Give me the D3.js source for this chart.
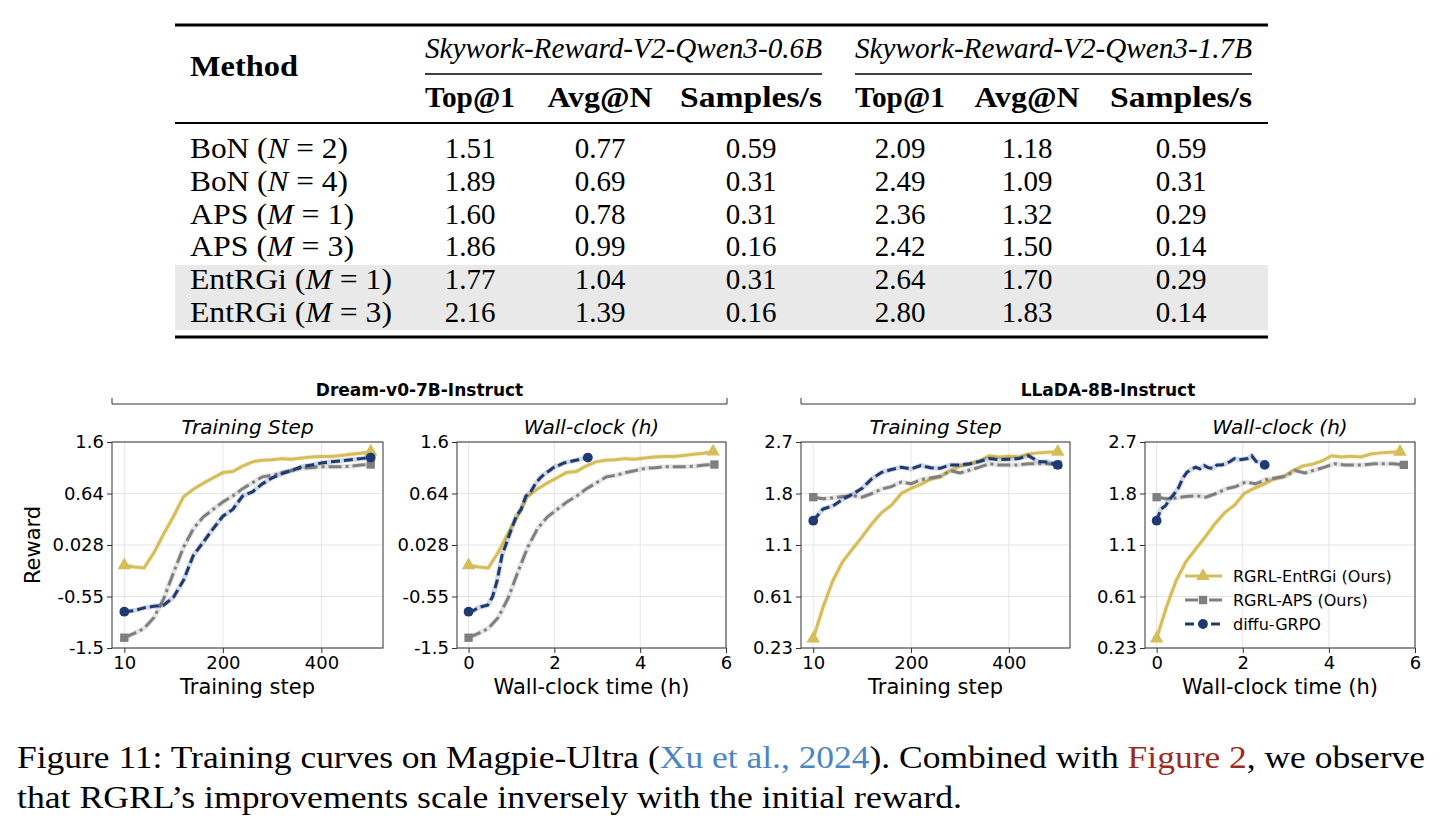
<!DOCTYPE html>
<html>
<head>
<meta charset="utf-8">
<script src="https://cdn.jsdelivr.net/npm/d3@7"></script>
<style>
  body { margin: 0; background: #fff; }
  svg { display: block; }
</style>
</head>
<body>
<svg id="fig" width="1454" height="829"></svg>
<script>
// ---- table data ----
var rowMethods = ["BoN", "BoN", "APS", "APS", "EntRGi", "EntRGi"];
var rowVar = ["N", "N", "M", "M", "M", "M"];
var rowVal = ["2", "4", "1", "3", "1", "3"];
var rmHeaders = ["Skywork-Reward-V2-Qwen3-0.6B", "Skywork-Reward-V2-Qwen3-1.7B"];
var colHeaders = ["Top@1", "Avg@N", "Samples/s"];
var top1_06 = [1.51, 1.89, 1.60, 1.86, 1.77, 2.16];
var avgN_06 = [0.77, 0.69, 0.78, 0.99, 1.04, 1.39];
var sps_06 = [0.59, 0.31, 0.31, 0.16, 0.31, 0.16];
var top1_17 = [2.09, 2.49, 2.36, 2.42, 2.64, 2.80];
var avgN_17 = [1.18, 1.09, 1.32, 1.50, 1.70, 1.83];
var sps_17 = [0.59, 0.31, 0.29, 0.14, 0.29, 0.14];

// ---- curve data (reward every 20 training steps) ----
var steps = [0, 20, 40, 60, 80, 100, 120, 140, 160, 180, 200, 220, 240, 260, 280, 300, 320, 340, 360, 380, 400, 420, 440, 460, 480, 500];
var seriesNames = ["RGRL-EntRGi (Ours)", "RGRL-APS (Ours)", "diffu-GRPO"];
var dreamEntRGi = [-0.20, -0.22, -0.23, -0.06, 0.16, 0.37, 0.60, 0.72, 0.83, 0.93, 1.03, 1.05, 1.15, 1.23, 1.26, 1.27, 1.29, 1.28, 1.30, 1.32, 1.33, 1.33, 1.35, 1.37, 1.39, 1.42];
var dreamAPS = [-1.31, -1.23, -1.14, -0.94, -0.59, -0.28, 0.00, 0.22, 0.36, 0.45, 0.54, 0.61, 0.73, 0.84, 0.95, 0.98, 1.03, 1.07, 1.11, 1.12, 1.14, 1.14, 1.14, 1.15, 1.17, 1.18];
var dreamGRPO = [-0.83, -0.81, -0.76, -0.73, -0.71, -0.56, -0.37, -0.09, 0.06, 0.22, 0.37, 0.45, 0.61, 0.67, 0.82, 0.93, 1.01, 1.07, 1.14, 1.17, 1.21, 1.23, 1.25, 1.27, 1.29, 1.31];
var lladaEntRGi = [0.30, 0.53, 0.76, 0.94, 1.06, 1.21, 1.39, 1.54, 1.64, 1.80, 1.89, 1.96, 2.05, 2.09, 2.20, 2.28, 2.31, 2.37, 2.46, 2.44, 2.45, 2.44, 2.49, 2.51, 2.52, 2.53];
var lladaAPS = [1.75, 1.73, 1.74, 1.76, 1.77, 1.75, 1.80, 1.88, 1.92, 2.00, 1.97, 2.04, 2.07, 2.10, 2.20, 2.16, 2.21, 2.26, 2.32, 2.30, 2.30, 2.30, 2.32, 2.32, 2.32, 2.30];
var lladaGRPO = [1.43, 1.59, 1.63, 1.72, 1.79, 1.89, 2.06, 2.17, 2.22, 2.26, 2.23, 2.29, 2.25, 2.24, 2.30, 2.30, 2.32, 2.36, 2.41, 2.39, 2.40, 2.41, 2.46, 2.36, 2.35, 2.30];
// total wall-clock hours of each run (EntRGi, APS, GRPO)
var dreamHours = [5.70, 5.73, 2.78];
var lladaHours = [5.65, 5.74, 2.51];

var dreamYTicks = [-1.5, -0.55, 0.028, 0.64, 1.6];
var dreamYLabels = ["-1.5", "-0.55", "0.028", "0.64", "1.6"];
var lladaYTicks = [0.23, 0.61, 1.1, 1.8, 2.7];
var lladaYLabels = ["0.23", "0.61", "1.1", "1.8", "2.7"];
var stepTicks = [0, 200, 400];
var stepTickLabels = ["10", "200", "400"];
var hourTicks = [0, 2, 4, 6];
var hourTickLabels = ["0", "2", "4", "6"];

var colors = ["#d6bd57", "#7f7f7f", "#1f3a72"];
var dashes = [null, "13,4,3,4", "9,4"];
var markers = [d3.symbolTriangle, d3.symbolSquare, d3.symbolCircle];
var markerSize = [80, 70, 75];

var svg = d3.select("#fig");
var serif = "'Liberation Serif', 'Times New Roman', serif";
var sans = "'DejaVu Sans', sans-serif";

// ================= TABLE =================
var tLeft = 175, tRight = 1268;
var colX = [470, 600, 751, 900, 1027, 1181];
var colW = [90, 105, 142, 90, 105, 142];
var labelW = [158, 158, 164, 164, 202, 202];
var rowY = d3.scalePoint().domain(d3.range(6)).range([158, 322]);

svg.append("rect").attr("x", tLeft).attr("y", 265).attr("width", tRight - tLeft).attr("height", 65)
  .attr("fill", "#e9e9e9");
svg.append("line").attr("x1", tLeft).attr("x2", tRight).attr("y1", 25).attr("y2", 25)
  .attr("stroke", "#000").attr("stroke-width", 3);
svg.append("line").attr("x1", tLeft).attr("x2", tRight).attr("y1", 123).attr("y2", 123)
  .attr("stroke", "#000").attr("stroke-width", 2);
svg.append("line").attr("x1", tLeft).attr("x2", tRight).attr("y1", 337).attr("y2", 337)
  .attr("stroke", "#000").attr("stroke-width", 3);

svg.append("text").attr("x", 190).attr("y", 76).text("Method")
  .attr("font-family", serif).attr("font-weight", "bold").attr("font-size", 29)
  .attr("textLength", 108).attr("lengthAdjust", "spacingAndGlyphs");

var groupSpan = [[425, 822], [855, 1252]];
rmHeaders.forEach(function (h, k) {
  var s = groupSpan[k];
  svg.append("text").attr("x", s[0]).attr("y", 58).text(h)
    .attr("font-family", serif).attr("font-style", "italic").attr("font-size", 29)
    .attr("textLength", s[1] - s[0]).attr("lengthAdjust", "spacingAndGlyphs");
  svg.append("line").attr("x1", s[0]).attr("x2", s[1]).attr("y1", 74).attr("y2", 74)
    .attr("stroke", "#000").attr("stroke-width", 1.5);
  colHeaders.forEach(function (c, j) {
    var ci = k * 3 + j;
    svg.append("text").attr("x", colX[ci] - colW[ci] / 2).attr("y", 107).text(c)
      .attr("font-family", serif).attr("font-weight", "bold").attr("font-size", 29)
      .attr("textLength", colW[ci]).attr("lengthAdjust", "spacingAndGlyphs");
  });
});

var tableCols = [top1_06, avgN_06, sps_06, top1_17, avgN_17, sps_17];
rowMethods.forEach(function (m, i) {
  var t = svg.append("text").attr("x", 190).attr("y", rowY(i))
    .attr("font-family", serif).attr("font-size", 29)
    .attr("textLength", labelW[i]).attr("lengthAdjust", "spacingAndGlyphs");
  t.append("tspan").text(m + " (");
  t.append("tspan").attr("font-style", "italic").text(rowVar[i]);
  t.append("tspan").text(" = " + rowVal[i] + ")");
  tableCols.forEach(function (col, j) {
    svg.append("text").attr("x", colX[j]).attr("y", rowY(i)).text(col[i].toFixed(2))
      .attr("text-anchor", "middle").attr("font-family", serif).attr("font-size", 29);
  });
});

// ================= CHARTS =================
var plotTop = 442, plotBottom = 648;

function drawPanel(p) {
  var g = svg.append("g");
  var x = d3.scaleLinear().domain(p.xDomain).range([p.left, p.right]);
  var y = d3.scaleLinear().domain(p.yTicks)
    .range(d3.quantize(d3.interpolateNumber(plotBottom, plotTop), p.yTicks.length));

  // grid
  g.selectAll(".vg").data(p.xTicks).join("line")
    .attr("x1", function (d) { return x(d); }).attr("x2", function (d) { return x(d); })
    .attr("y1", plotTop).attr("y2", plotBottom).attr("stroke", "#e5e5e5").attr("stroke-width", 1);
  g.selectAll(".hg").data(p.yTicks).join("line")
    .attr("x1", p.left).attr("x2", p.right)
    .attr("y1", function (d) { return y(d); }).attr("y2", function (d) { return y(d); })
    .attr("stroke", "#e5e5e5").attr("stroke-width", 1);

  // axes
  var xa = g.append("g").attr("transform", "translate(0," + plotBottom + ")")
    .call(d3.axisBottom(x).tickValues(p.xTicks).tickFormat(function (d, i) { return p.xTickLabels[i]; })
      .tickSize(5).tickSizeOuter(0).tickPadding(3));
  var ya = g.append("g").attr("transform", "translate(" + p.left + ",0)")
    .call(d3.axisLeft(y).tickValues(p.yTicks).tickFormat(function (d, i) { return p.yTickLabels[i]; })
      .tickSize(5).tickSizeOuter(0).tickPadding(3));
  [xa, ya].forEach(function (a) {
    a.select(".domain").remove();
    a.selectAll("line").attr("stroke", "#333");
    a.selectAll("text").attr("font-family", sans).attr("font-size", 18).attr("fill", "#000");
  });

  // series
  p.series.forEach(function (s, k) {
    var pts = s.values.map(function (v, i) { return [s.xs[i], v]; });
    var line = d3.line().x(function (d) { return x(d[0]); }).y(function (d) { return y(d[1]); });
    g.append("path").datum(pts).attr("d", line).attr("fill", "none")
      .attr("stroke", colors[k]).attr("stroke-opacity", 0.2).attr("stroke-width", 5);
    g.append("path").datum(pts).attr("d", line).attr("fill", "none")
      .attr("stroke", colors[k]).attr("stroke-width", 3)
      .attr("stroke-dasharray", dashes[k]);
    [pts[0], pts[pts.length - 1]].forEach(function (d) {
      g.append("path").attr("d", d3.symbol().type(markers[k]).size(markerSize[k])())
        .attr("transform", "translate(" + x(d[0]) + "," + y(d[1]) + ")")
        .attr("fill", colors[k]);
    });
  });

  // frame
  g.append("rect").attr("x", p.left).attr("y", plotTop)
    .attr("width", p.right - p.left).attr("height", plotBottom - plotTop)
    .attr("fill", "none").attr("stroke", "#333").attr("stroke-width", 1);

  var cx = (p.left + p.right) / 2;
  g.append("text").attr("x", cx).attr("y", 434).attr("text-anchor", "middle").text(p.title)
    .attr("font-family", sans).attr("font-style", "italic").attr("font-size", 20);
  g.append("text").attr("x", cx).attr("y", 694).attr("text-anchor", "middle").text(p.xLabel)
    .attr("font-family", sans).attr("font-size", 21);
  if (p.yLabel) {
    g.append("text").attr("transform", "translate(40,545) rotate(-90)")
      .attr("text-anchor", "middle").text(p.yLabel)
      .attr("font-family", sans).attr("font-size", 21);
  }

  if (p.legend) {
    seriesNames.forEach(function (n, k) {
      var ly = 576 + k * 24;
      g.append("line").attr("x1", 1185).attr("x2", 1222).attr("y1", ly).attr("y2", ly)
        .attr("stroke", colors[k]).attr("stroke-width", 3).attr("stroke-dasharray", dashes[k]);
      g.append("path").attr("d", d3.symbol().type(markers[k]).size(markerSize[k])())
        .attr("transform", "translate(1203," + ly + ")").attr("fill", colors[k]);
      g.append("text").attr("x", 1233).attr("y", ly).attr("dy", "0.35em").text(n)
        .attr("font-family", sans).attr("font-size", 16);
    });
  }
}

function hoursFor(total) {
  return steps.map(function (s) { return s / 500 * total; });
}

var dreamVals = [dreamEntRGi, dreamAPS, dreamGRPO];
var lladaVals = [lladaEntRGi, lladaAPS, lladaGRPO];

drawPanel({
  left: 112, right: 383, xDomain: [-25, 525], xTicks: stepTicks, xTickLabels: stepTickLabels,
  yTicks: dreamYTicks, yTickLabels: dreamYLabels, title: "Training Step", xLabel: "Training step",
  yLabel: "Reward",
  series: dreamVals.map(function (v) { return { values: v, xs: steps }; })
});
drawPanel({
  left: 457, right: 726, xDomain: [-0.27, 6.0], xTicks: hourTicks, xTickLabels: hourTickLabels,
  yTicks: dreamYTicks, yTickLabels: dreamYLabels, title: "Wall-clock (h)", xLabel: "Wall-clock time (h)",
  series: dreamVals.map(function (v, k) { return { values: v, xs: hoursFor(dreamHours[k]) }; })
});
drawPanel({
  left: 801, right: 1070, xDomain: [-25, 525], xTicks: stepTicks, xTickLabels: stepTickLabels,
  yTicks: lladaYTicks, yTickLabels: lladaYLabels, title: "Training Step", xLabel: "Training step",
  series: lladaVals.map(function (v) { return { values: v, xs: steps }; })
});
drawPanel({
  left: 1145, right: 1415, xDomain: [-0.27, 6.0], xTicks: hourTicks, xTickLabels: hourTickLabels,
  yTicks: lladaYTicks, yTickLabels: lladaYLabels, title: "Wall-clock (h)", xLabel: "Wall-clock time (h)",
  legend: true,
  series: lladaVals.map(function (v, k) { return { values: v, xs: hoursFor(lladaHours[k]) }; })
});

// group brackets
var groups = [["Dream-v0-7B-Instruct", 112, 727], ["LLaDA-8B-Instruct", 801, 1415]];
groups.forEach(function (gr) {
  svg.append("path").attr("d", "M" + gr[1] + ",398V404H" + gr[2] + "V398")
    .attr("fill", "none").attr("stroke", "#333").attr("stroke-width", 1);
  svg.append("text").attr("x", (gr[1] + gr[2]) / 2).attr("y", 396).attr("text-anchor", "middle")
    .text(gr[0]).attr("font-family", sans).attr("font-weight", "bold").attr("font-size", 17);
});

// ================= CAPTION =================
var cap1 = svg.append("text").attr("x", 17).attr("y", 768)
  .attr("font-family", serif).attr("font-size", 32)
  .attr("textLength", 1408).attr("lengthAdjust", "spacingAndGlyphs");
cap1.append("tspan").text("Figure 11: Training curves on Magpie-Ultra (");
cap1.append("tspan").attr("fill", "#4a86c3").text("Xu et al., 2024");
cap1.append("tspan").text("). Combined with ");
cap1.append("tspan").attr("fill", "#9c2b1e").text("Figure 2");
cap1.append("tspan").text(", we observe");
svg.append("text").attr("x", 17).attr("y", 808)
  .attr("font-family", serif).attr("font-size", 32)
  .attr("textLength", 945).attr("lengthAdjust", "spacingAndGlyphs")
  .text("that RGRL\u2019s improvements scale inversely with the initial reward.");
</script>
</body>
</html>
